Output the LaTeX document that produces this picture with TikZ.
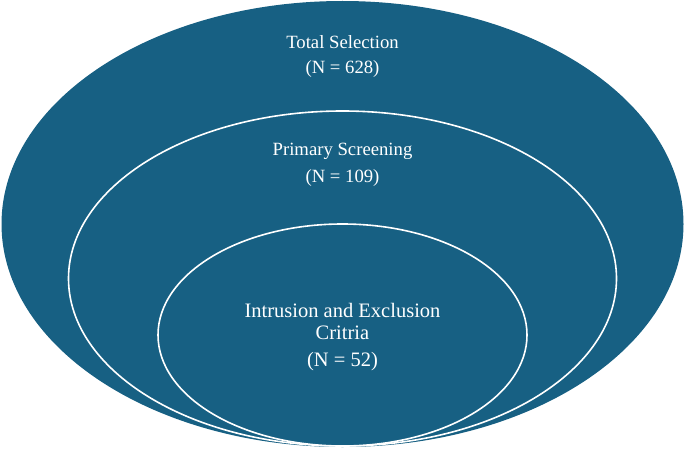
\documentclass[tikz,border=0pt]{standalone}
\usepackage{fontspec}
\setmainfont{Liberation Serif}
\definecolor{teal1}{RGB}{23,96,131}
\begin{document}
\begin{tikzpicture}[x=1pt,y=1pt,
  ring/.style={draw=white,line width=1.6pt,fill=teal1},
  lbl/.style={text=white,font=\fontsize{18.7}{22}\selectfont,inner sep=0pt,align=center},
  lblbig/.style={text=white,font=\fontsize{20.5}{22}\selectfont,inner sep=0pt,align=center}]
\useasboundingbox (0,0) rectangle (685,448);
\fill[teal1] (342.5,224) ellipse [x radius=341,y radius=223];
\draw[ring] (342.5,169.5) ellipse [x radius=274,y radius=167.5];
\draw[ring] (342.5,113) ellipse [x radius=184.5,y radius=111];
\node[lbl] (t1) at (342.5,406.3) {Total Selection};
\node[lbl] (t2) at (342.5,378.7) {(N = 628)};
\node[lbl] (p1) at (342.5,296.3) {Primary Screening};
\node[lbl] (p2) at (342.5,269.7) {(N = 109)};
\node[lblbig] (i1) at (342.5,126.3) {Intrusion and Exclusion\\Critria};
\node[lblbig] (i2) at (342.5,86.3) {(N = 52)};
\end{tikzpicture}
\end{document}
